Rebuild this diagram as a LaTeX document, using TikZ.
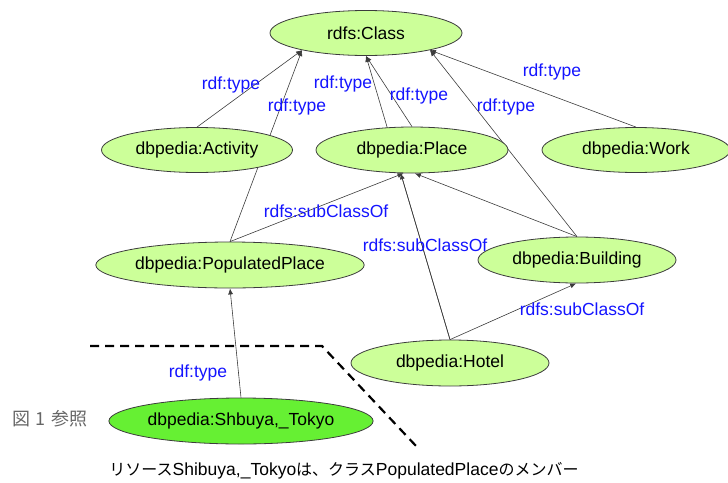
\documentclass[tikz,border=0pt]{standalone}
\usepackage{fontspec}
\setmainfont{Liberation Sans}
\newfontfamily\jpfont{Noto Sans CJK JP}
\usetikzlibrary{shapes.geometric,arrows.meta}
\pgfdeclarelayer{background}
\pgfsetlayers{background,main}
\definecolor{lgreen}{RGB}{204,255,153}
\definecolor{bgreen}{RGB}{102,240,51}
\definecolor{edgegray}{RGB}{60,60,60}
\definecolor{lblblue}{RGB}{20,20,255}
\tikzset{
  cls/.style={ellipse, draw=edgegray, line width=0.8pt, fill=lgreen, inner sep=0pt,
    font=\fontsize{17.5}{17.5}\selectfont},
  rel/.style={draw=edgegray, line width=0.6pt, -{Latex[length=6pt,width=5pt]}},
  lbl/.style={text=lblblue, font=\fontsize{17.5}{17.5}\selectfont, inner sep=0pt},
}
\newcommand{\jp}[1]{{\jpfont\fontsize{16}{16}\selectfont #1}}
\begin{document}
\begin{tikzpicture}[x=1pt,y=-1pt]
\useasboundingbox (0,0) rectangle (728,482);
% nodes
\node[cls, minimum width=192pt, minimum height=45pt] (cls) at (366,33) {rdfs:Class};
\node[cls, minimum width=191pt, minimum height=45pt] (act) at (197,150) {dbpedia:Activity};
\node[cls, minimum width=192pt, minimum height=46pt] (place) at (412,150) {dbpedia:Place};
\node[cls, minimum width=188pt, minimum height=45pt] (work) at (636,150) {dbpedia:Work};
\node[cls, minimum width=256pt, minimum height=46pt] (pp) at (230,265) {dbpedia:PopulatedPlace};
\node[cls, minimum width=198pt, minimum height=46pt] (bld) at (577,260) {dbpedia:Building};
\node[cls, minimum width=198pt, minimum height=46pt] (hotel) at (450,363) {dbpedia:Hotel};
\node[cls, fill=bgreen, minimum width=256pt, minimum height=46pt] (shb) at (241,421) {dbpedia:Shbuya,\_Tokyo};
% edges
\begin{pgfonlayer}{background}
\draw[rel] (act.north) -- (cls.195);
\draw[rel] (pp.north) -- (cls.195);
\draw[rel] (place.north) -- (cls.south);
\draw[rel] (hotel.north) -- (cls.south);
\draw[rel] (bld.north) -- (cls.-15);
\draw[rel] (work.north) -- (cls.-15);
\draw[rel] (pp.north) -- (place.250);
\draw[rel] (hotel.north) -- (place.244);
\draw[rel] (bld.north) -- (place.277);
\draw[rel] (hotel.north) -- (bld.268);
\draw[rel] (shb.north) -- (pp.south);
\end{pgfonlayer}
% labels
\node[lbl] (l1) at (231,85) {rdf:type};
\node[lbl] (l2) at (297,107) {rdf:type};
\node[lbl] (l3) at (343,84) {rdf:type};
\node[lbl] (l4) at (419,96) {rdf:type};
\node[lbl] (l5) at (506,107) {rdf:type};
\node[lbl] (l6) at (552,72) {rdf:type};
\node[lbl] (l7) at (326,211) {rdfs:subClassOf};
\node[lbl] (l8) at (425,245) {rdfs:subClassOf};
\node[lbl] (l9) at (582,309) {rdfs:subClassOf};
\node[lbl] (l10) at (198,373) {rdf:type};
% dashed boundary
\coordinate (d1) at (90,346);
\coordinate (d2) at (322,346);
\coordinate (d3) at (417,447);
\draw[line width=2.2pt, dash pattern=on 9pt off 6pt] (d1) -- (d2) -- (d3);
% texts
\node[text=black!60, font=\jpfont\fontsize{18}{18}\selectfont, inner sep=0pt] (fig) at (50,419) {図\hspace{6pt}1\hspace{6pt}参照};
\node[font=\fontsize{17.5}{17.5}\selectfont, inner sep=0pt] (cap) at (344,471) {\jp{リソース}Shibuya,\_Tokyo\jp{は、クラス}PopulatedPlace\jp{のメンバー}};
\end{tikzpicture}
\end{document}
